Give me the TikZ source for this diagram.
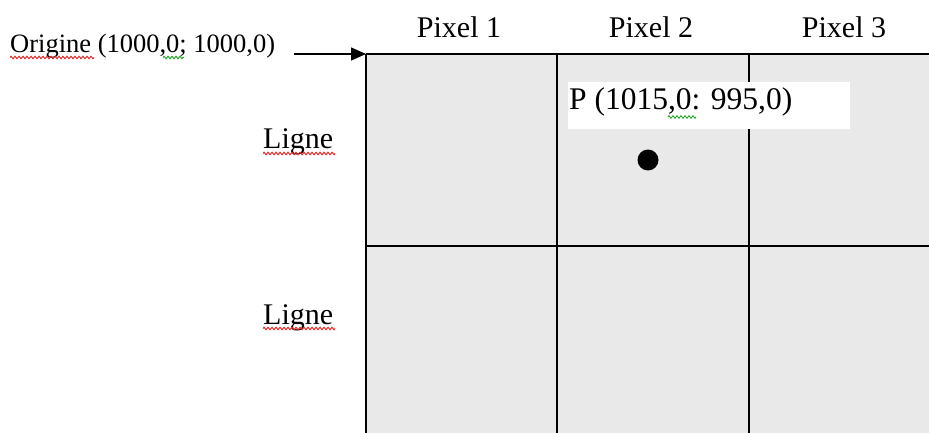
\documentclass[tikz,border=0pt]{standalone}
\usepackage{fontspec}
\setmainfont{Liberation Serif}
\usetikzlibrary{arrows.meta,decorations.pathmorphing}
\definecolor{cellgrey}{RGB}{233,233,233}
\definecolor{spellred}{RGB}{230,40,40}
\definecolor{spellgreen}{RGB}{40,170,40}
\tikzset{
  gridline/.style={line width=1.8pt, black},
  bigtxt/.style={inner sep=0pt, font=\fontsize{30}{32}\selectfont},
  ptxt/.style={inner sep=0pt, font=\fontsize{31.5}{33}\selectfont},
  smalltxt/.style={inner sep=0pt, font=\fontsize{26.5}{28}\selectfont},
  squig/.style={line width=0.9pt, decorate, decoration={zigzag, segment length=4pt, amplitude=1.3pt}},
}
\begin{document}
\begin{tikzpicture}[x=1pt,y=-1pt]
\useasboundingbox (0,0) rectangle (929,433);
% grey area
\fill[cellgrey] (366,54) rectangle (929,433);
% grid lines
\coordinate (tl) at (366,54);
\coordinate (tr) at (929,54);
\coordinate (bl) at (366,433);
\coordinate (ml) at (366,246);
\coordinate (mr) at (929,246);
\coordinate (c2t) at (557,54);
\coordinate (c2b) at (557,433);
\coordinate (c3t) at (749,54);
\coordinate (c3b) at (749,433);
\draw[gridline] (tl) -- (tr);
\draw[gridline] (ml) -- (mr);
\draw[gridline] (tl) -- (bl);
\draw[gridline] (c2t) -- (c2b);
\draw[gridline] (c3t) -- (c3b);
% origin label and arrow
\node[smalltxt, anchor=base west] (orig) at (10,53) {Origine (1000,0; 1000,0)};
\coordinate (astart) at (294,54);
\draw[line width=1.4pt, -{Triangle[length=15pt,width=13pt]}] (astart) -- (tl);
% column labels
\node[bigtxt, anchor=base] (p1) at (459,38) {Pixel 1};
\node[bigtxt, anchor=base] (p2) at (651,38) {Pixel 2};
\node[bigtxt, anchor=base] (p3) at (844,38) {Pixel 3};
% row labels
\node[bigtxt, anchor=base west] (l1) at (263,149) {Ligne};
\node[bigtxt, anchor=base west] (l2) at (263,324) {Ligne};
% point label box
\fill[white] (568,82) rectangle (850,129);
\node[ptxt, anchor=base west] (plab) at (569,110) {P (1015,0: 995,0)};
% point
\fill[black] (648,160) circle (10.5pt);
\node[inner sep=0pt] (pt) at (648,160) {};
% spell-check squiggles
\draw[squig, spellred] (10,57.5) -- (94,57.5);
\draw[squig, spellgreen] (163,57.5) -- (184,57.5);
\draw[squig, spellred] (263,153.5) -- (335,153.5);
\draw[squig, spellred] (263,328.5) -- (335,328.5);
\draw[squig, spellgreen] (668,117) -- (696,117);
\end{tikzpicture}
\end{document}
